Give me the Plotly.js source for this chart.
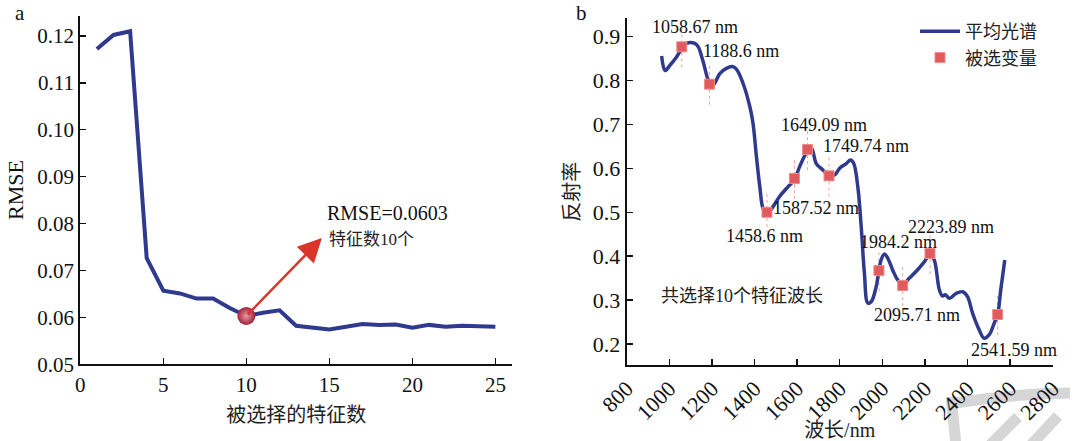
<!DOCTYPE html>
<html>
<head>
<meta charset="utf-8">
<script src="https://cdn.plot.ly/plotly-3.0.1.min.js"></script>
<style>html,body{margin:0;padding:0;background:#fff;}#chart{width:1077px;height:441px;}</style>
</head>
<body>
<div id="chart"></div>
<script>
// ---- Panel a: RMSE vs number of selected features ----
const featureCounts = [1,2,3,4,5,6,7,8,9,10,11,12,13,14,15,16,17,18,19,20,21,22,23,24,25];
const rmseValues = [0.1172,0.1202,0.1210,0.0726,0.0657,0.0651,0.0640,0.0640,0.0620,0.0603,0.0610,0.0615,0.0582,0.0579,0.0574,0.0580,0.0586,0.0584,0.0585,0.0578,0.0584,0.0580,0.0582,0.0581,0.0580];
const bestCount = [10];
const bestRmse = [0.0603];
const arrowHead = {x: 14.55, y: 0.0769};

// ---- Panel b: mean spectrum and selected wavelengths ----
const wavelengths = [964,980,1003,1034,1058.67,1081,1120,1136,1159,1188.6,1206,1237,1268,1296,1315,1346,1378,1393,1409,1425,1440,1458.6,1487,1518,1557,1587.52,1612,1649.09,1667,1690,1713,1749.74,1776,1799,1831,1851,1866,1885,1901,1916,1932,1948,1971,1984.2,1994,2010,2026,2049,2072,2095.71,2127,2166,2197,2223.89,2244,2268,2283,2296,2315,2346,2377,2400,2424,2455,2478,2502,2525,2541.59,2556,2575];
const meanReflectance = [0.856,0.823,0.835,0.854,0.873,0.885,0.885,0.877,0.843,0.795,0.790,0.816,0.828,0.832,0.826,0.794,0.741,0.703,0.627,0.558,0.509,0.497,0.513,0.536,0.558,0.574,0.604,0.640,0.646,0.611,0.600,0.585,0.585,0.600,0.611,0.619,0.611,0.558,0.467,0.361,0.293,0.296,0.330,0.367,0.391,0.405,0.395,0.368,0.346,0.335,0.350,0.369,0.387,0.404,0.391,0.323,0.309,0.312,0.304,0.315,0.319,0.308,0.270,0.232,0.213,0.221,0.247,0.267,0.323,0.391];
const selectedWavelengths = [1058.67,1188.6,1458.6,1587.52,1649.09,1749.74,1984.2,2095.71,2223.89,2541.59];
const selectedReflectance = [0.877,0.792,0.500,0.577,0.643,0.583,0.367,0.333,0.406,0.267];
const selectedLabels = ["1058.67 nm","1188.6 nm","1458.6 nm","1587.52 nm","1649.09 nm","1749.74 nm","1984.2 nm","2095.71 nm","2223.89 nm","2541.59 nm"];
const labelShiftX = [13,32,-2,22,16,37,20,14,21,16];
const labelShiftY = [20,33,-24,-30,25,30,29,-29,27,-35];

const W = 1077, H = 441;
const px = v => v / W;
const py = v => 1 - v / H;

const serif = "Liberation Serif, Times New Roman, Noto Sans CJK SC, serif";
const cjk = "Liberation Serif, Noto Sans CJK SC, serif";
const navy = "#2f3a8f";

// dashed guide lines through each selected wavelength
const guideX = [], guideY = [];
selectedWavelengths.forEach((w, i) => {
  guideX.push(w, w, null);
  guideY.push(selectedReflectance[i] - 0.047, selectedReflectance[i] + 0.047, null);
});

const traces = [
  {x: featureCounts, y: rmseValues, xaxis: 'x', yaxis: 'y', mode: 'lines',
   line: {color: navy, width: 4}, showlegend: false, hoverinfo: 'skip'},
  {x: bestCount, y: bestRmse, xaxis: 'x', yaxis: 'y', mode: 'markers',
   marker: {size: 18, color: '#9e2238', gradient: {type: 'radial', color: '#e59aa6'}, line: {width: 0}},
   showlegend: false},
  {x: guideX, y: guideY, xaxis: 'x2', yaxis: 'y2', mode: 'lines',
   line: {color: '#f2a0a0', width: 1, dash: 'dot'}, showlegend: false, hoverinfo: 'skip'},
  {x: wavelengths, y: meanReflectance, xaxis: 'x2', yaxis: 'y2', mode: 'lines', name: '平均光谱',
   line: {color: navy, width: 3.5, shape: 'spline', smoothing: 1}},
  {x: selectedWavelengths, y: selectedReflectance, xaxis: 'x2', yaxis: 'y2', mode: 'markers', name: '被选变量',
   marker: {symbol: 'square', size: 10, color: '#e05a5e', line: {color: '#f08a88', width: 1}}}
];

const axisCommon = {showgrid: false, zeroline: false, showline: true, linecolor: '#111', linewidth: 2,
  ticks: 'inside', ticklen: 6, tickwidth: 1.5, tickcolor: '#111', mirror: false};
const tickFontA = {family: serif, size: 21, color: '#111'};
const tickFontB = {family: serif, size: 22, color: '#111'};

const annotations = [
  {xref: 'paper', yref: 'paper', x: px(20), y: py(13), text: 'a', showarrow: false,
   font: {family: serif, size: 21, color: '#111'}, xanchor: 'center', yanchor: 'middle'},
  {xref: 'paper', yref: 'paper', x: px(582), y: py(13), text: 'b', showarrow: false,
   font: {family: serif, size: 21, color: '#111'}, xanchor: 'center', yanchor: 'middle'},
  {xref: 'x', yref: 'y', x: arrowHead.x, y: arrowHead.y, axref: 'x', ayref: 'y',
   ax: bestCount[0], ay: bestRmse[0], showarrow: true, arrowhead: 2, arrowsize: 1.9, arrowwidth: 2.5,
   arrowcolor: '#d9352a', text: ''},
  {xref: 'paper', yref: 'paper', x: px(325), y: py(213), text: 'RMSE=0.0603', showarrow: false,
   xanchor: 'left', yanchor: 'middle', font: {family: serif, size: 20, color: '#111'}},
  {xref: 'paper', yref: 'paper', x: px(327), y: py(239), text: '特征数10个', showarrow: false,
   xanchor: 'left', yanchor: 'middle', font: {family: cjk, size: 17, color: '#222'}},
  {xref: 'paper', yref: 'paper', x: px(742), y: py(296), text: '共选择10个特征波长', showarrow: false,
   xanchor: 'center', yanchor: 'middle', font: {family: cjk, size: 18, color: '#222'}}
];
selectedWavelengths.forEach((w, i) => {
  annotations.push({xref: 'x2', yref: 'y2', x: w, y: selectedReflectance[i], text: selectedLabels[i],
    showarrow: false, xshift: labelShiftX[i], yshift: labelShiftY[i], xanchor: 'center', yanchor: 'middle',
    font: {family: serif, size: 18, color: '#111'}});
});

const wm = {type: 'line', xref: 'paper', yref: 'paper', layer: 'below', line: {color: '#d6d6d6', width: 11}};
const shapes = [
  Object.assign({}, wm, {x0: px(951), y0: py(397), x1: px(956), y1: py(445)}),
  Object.assign({}, wm, {type: 'path', path: `M ${px(955)} ${py(403)} Q ${px(1010)} ${py(394)} ${px(1070)} ${py(393)}`}),
  Object.assign({}, wm, {x0: px(1018), y0: py(417), x1: px(990), y1: py(445)}),
  Object.assign({}, wm, {x0: px(1058), y0: py(416), x1: px(1031), y1: py(445)})
];

const layout = {
  width: W, height: H,
  margin: {l: 0, r: 0, t: 0, b: 0},
  paper_bgcolor: '#fff', plot_bgcolor: 'rgba(0,0,0,0)',
  showlegend: true,
  legend: {x: px(915), y: py(13), xanchor: 'left', yanchor: 'top', bgcolor: 'rgba(0,0,0,0)',
    font: {family: cjk, size: 18, color: '#222'}, itemwidth: 40, tracegroupgap: 0},
  xaxis: Object.assign({}, axisCommon, {domain: [px(80.3), px(512)], range: [0, 26],
    tickvals: [0,5,10,15,20,25], anchor: 'y', tickfont: tickFontA,
    title: {text: '被选择的特征数', font: {family: cjk, size: 20, color: '#222'}, standoff: 12}}),
  yaxis: Object.assign({}, axisCommon, {domain: [py(364.3), py(15.7)], range: [0.05, 0.1243],
    tickvals: [0.05,0.06,0.07,0.08,0.09,0.10,0.11,0.12], ticktext: ['0.05','0.06','0.07','0.08','0.09','0.10','0.11','0.12'],
    anchor: 'x', tickfont: tickFontA,
    title: {text: 'RMSE', font: {family: serif, size: 22, color: '#111'}, standoff: 8}}),
  xaxis2: Object.assign({}, axisCommon, {domain: [px(626.7), px(1052.7)], range: [800, 2800],
    tickvals: [800,1000,1200,1400,1600,1800,2000,2200,2400,2600,2800], tickangle: -45, anchor: 'y2', tickfont: tickFontB,
    title: {text: '波长/nm', font: {family: cjk, size: 20, color: '#222'}, standoff: 0}}),
  yaxis2: Object.assign({}, axisCommon, {domain: [py(365), py(18.3)], range: [0.152, 0.942],
    tickvals: [0.2,0.3,0.4,0.5,0.6,0.7,0.8,0.9], anchor: 'x2', tickfont: tickFontB,
    title: {text: '反射率', font: {family: cjk, size: 20, color: '#222'}, standoff: 8}}),
  annotations: annotations,
  shapes: shapes
};

Plotly.newPlot('chart', traces, layout, {displayModeBar: false, staticPlot: true});
</script>
</body>
</html>
